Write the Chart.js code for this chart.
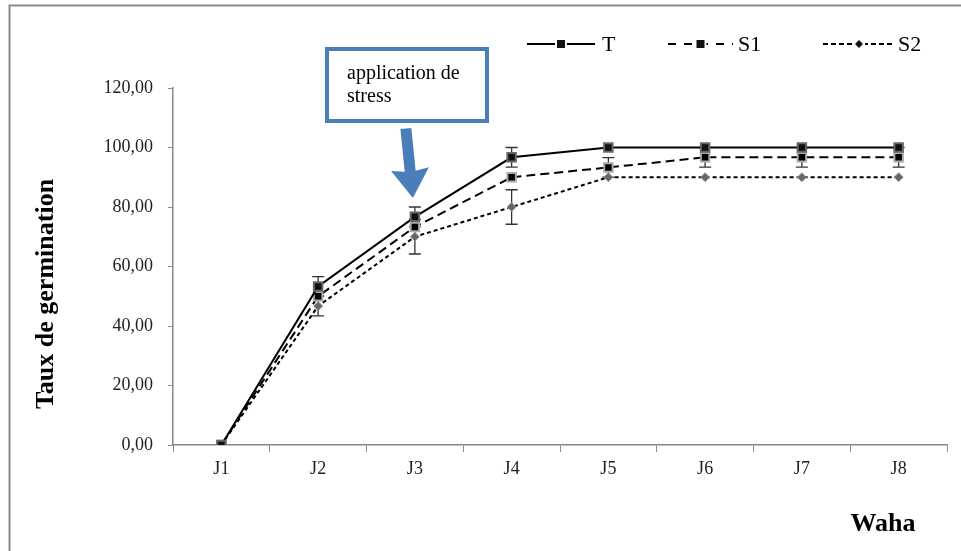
<!DOCTYPE html>
<html>
<head>
<meta charset="utf-8">
<script src="https://cdn.jsdelivr.net/npm/chart.js@4.4.1/dist/chart.umd.min.js"></script>
<style>
  html, body { margin: 0; padding: 0; background: #fff; }
  canvas { display: block; }
</style>
</head>
<body>
<canvas id="myChart" width="961" height="551"></canvas>
<script>
  "use strict";
  var days = ["J1", "J2", "J3", "J4", "J5", "J6", "J7", "J8"];
  var seriesNames = ["T", "S1", "S2"];
  var valuesT  = [0, 53.3, 76.7, 96.7, 100, 100, 100, 100];
  var valuesS1 = [0, 50, 73.3, 90, 93.3, 96.7, 96.7, 96.7];
  var valuesS2 = [0, 46.7, 70, 80, 90, 90, 90, 90];
  var errT  = [0, 3.3, 3.3, 3.3, 0, 0, 0, 0];
  var errS1 = [0, 0, 0, 0, 3.3, 3.3, 3.3, 3.3];
  var errS2 = [0, 3.3, 5.8, 5.8, 0, 0, 0, 0];
  var yTicks = [0, 20, 40, 60, 80, 100, 120];

  var serif = "'Liberation Serif', 'Times New Roman', serif";

  // error bars, drawn under the markers
  var errorBars = {
    id: "errorBars",
    beforeDatasetsDraw: function (chart) {
      var ctx = chart.ctx;
      var xs = chart.scales.x, ys = chart.scales.y;
      var errs = [errT, errS1, errS2];
      ctx.save();
      ctx.strokeStyle = "#333";
      ctx.lineWidth = 1.3;
      chart.data.datasets.forEach(function (ds, d) {
        for (var i = 0; i < ds.data.length; i++) {
          var e = errs[d][i];
          if (!e) continue;
          var x = xs.getPixelForValue(i);
          var top = ys.getPixelForValue(ds.data[i] + e);
          var bot = ys.getPixelForValue(ds.data[i] - e);
          ctx.beginPath();
          ctx.moveTo(x, top); ctx.lineTo(x, bot);
          ctx.moveTo(x - 6, top); ctx.lineTo(x + 6, top);
          ctx.moveTo(x - 6, bot); ctx.lineTo(x + 6, bot);
          ctx.stroke();
        }
      });
      ctx.restore();
    }
  };

  // frame, titles, legend and the stress note
  var decorations = {
    id: "decorations",
    beforeDraw: function (chart) {
      var ctx = chart.ctx;
      ctx.save();
      ctx.fillStyle = "#fff";
      ctx.fillRect(0, 0, chart.width, chart.height);
      ctx.strokeStyle = "#8c8c8c";
      ctx.lineWidth = 2;
      ctx.strokeRect(9.5, 5.5, chart.width + 10, chart.height + 10);
      ctx.restore();
    },
    afterDraw: function (chart) {
      var ctx = chart.ctx;
      var xs = chart.scales.x, ys = chart.scales.y;
      ctx.save();

      // axis titles
      ctx.fillStyle = "#000";
      ctx.font = "bold 26px " + serif;
      ctx.textAlign = "center";
      ctx.textBaseline = "middle";
      ctx.save();
      ctx.translate(46, 294);
      ctx.rotate(-Math.PI / 2);
      ctx.fillText("Taux de germination", 0, 0);
      ctx.restore();
      ctx.font = "bold 26px " + serif;
      ctx.fillText("Waha", 883, 524);

      // legend
      var items = [
        { x0: 527, x1: 595, tx: 602, dash: [], mark: "rect" },
        { x0: 668, x1: 733, tx: 738, dash: [8, 8], mark: "rect" },
        { x0: 823, x1: 895, tx: 898, dash: [5, 3], mark: "diamond" }
      ];
      var ly = 44;
      items.forEach(function (it, i) {
        ctx.strokeStyle = "#000";
        ctx.lineWidth = 2;
        ctx.setLineDash(it.dash);
        ctx.beginPath();
        ctx.moveTo(it.x0, ly); ctx.lineTo(it.x1, ly);
        ctx.stroke();
        ctx.setLineDash([]);
        var mx = (it.x0 + it.x1) / 2;
        ctx.fillStyle = "#fff";
        ctx.fillRect(mx - 6, ly - 5, 12, 10);
        ctx.fillStyle = "#111";
        if (it.mark === "rect") {
          ctx.fillRect(mx - 4, ly - 4, 8, 8);
        } else {
          ctx.beginPath();
          ctx.moveTo(mx, ly - 4); ctx.lineTo(mx + 4, ly);
          ctx.lineTo(mx, ly + 4); ctx.lineTo(mx - 4, ly);
          ctx.closePath(); ctx.fill();
        }
        ctx.fillStyle = "#000";
        ctx.font = "22px " + serif;
        ctx.textAlign = "left";
        ctx.textBaseline = "middle";
        ctx.fillText(seriesNames[i], it.tx, ly + 1);
      });

      // note box with arrow pointing at J3
      var ax = xs.getPixelForValue(2) - 2;
      var tipY = ys.getPixelForValue(83);
      ctx.strokeStyle = "#4a7ebb";
      ctx.lineWidth = 4;
      ctx.fillStyle = "#fff";
      ctx.fillRect(327, 49, 160, 72);
      ctx.strokeRect(327, 49, 160, 72);
      ctx.fillStyle = "#000";
      ctx.font = "20px " + serif;
      ctx.textAlign = "left";
      ctx.textBaseline = "alphabetic";
      ctx.fillText("application de", 347, 79);
      ctx.fillText("stress", 347, 102);

      ctx.fillStyle = "#4a7ebb";
      ctx.save();
      ctx.translate(ax, tipY);
      ctx.rotate(-0.1);
      ctx.beginPath();
      ctx.moveTo(0, 0);
      ctx.lineTo(-19, -29);
      ctx.lineTo(-5.5, -27);
      ctx.lineTo(-5.5, -70);
      ctx.lineTo(5.5, -70);
      ctx.lineTo(5.5, -27);
      ctx.lineTo(19, -29);
      ctx.closePath();
      ctx.fill();
      ctx.restore();

      ctx.restore();
    }
  };

  var ctx = document.getElementById("myChart").getContext("2d");
  var myChart = new Chart(ctx, {
    type: "line",
    data: {
      labels: days,
      datasets: [{
        label: seriesNames[0],
        data: valuesT,
        borderColor: "#000",
        borderWidth: 2,
        pointStyle: "rect",
        pointRadius: 6,
        pointBorderWidth: 2,
        pointBackgroundColor: "#111",
        pointBorderColor: "#666",
        fill: false
      }, {
        label: seriesNames[1],
        data: valuesS1,
        borderColor: "#000",
        borderWidth: 2,
        borderDash: [9, 5],
        pointStyle: "rect",
        pointRadius: 6,
        pointBorderWidth: 2,
        pointBackgroundColor: "#000",
        pointBorderColor: "#aaa",
        fill: false
      }, {
        label: seriesNames[2],
        data: valuesS2,
        borderColor: "#000",
        borderWidth: 2,
        borderDash: [4, 3],
        pointStyle: "rectRot",
        pointRadius: 4.5,
        pointBorderWidth: 1,
        pointBackgroundColor: "#666",
        pointBorderColor: "#999",
        fill: false
      }]
    },
    options: {
      responsive: false,
      animation: false,
      devicePixelRatio: 1,
      layout: { padding: { top: 88, right: 14, bottom: 0, left: 0 } },
      plugins: {
        legend: { display: false },
        tooltip: { enabled: false }
      },
      scales: {
        x: {
          offset: true,
          grid: { offset: true, drawOnChartArea: false, color: "#888", tickLength: 7 },
          border: { color: "#888", width: 1.5 },
          ticks: { color: "#222", padding: 6, font: { family: serif, size: 18 } },
          afterFit: function (scale) { scale.height = 106; }
        },
        y: {
          min: 0,
          max: 120,
          afterBuildTicks: function (scale) {
            scale.ticks = yTicks.map(function (v) { return { value: v }; });
          },
          grid: { drawOnChartArea: false, color: "#888", tickLength: 5 },
          border: { color: "#888", width: 1.5 },
          ticks: {
            color: "#222",
            padding: 15,
            font: { family: serif, size: 18 },
            callback: function (v) { return v.toFixed(2).replace(".", ","); }
          },
          afterFit: function (scale) { scale.width = 173; }
        }
      }
    },
    plugins: [errorBars, decorations]
  });
</script>
</body>
</html>
